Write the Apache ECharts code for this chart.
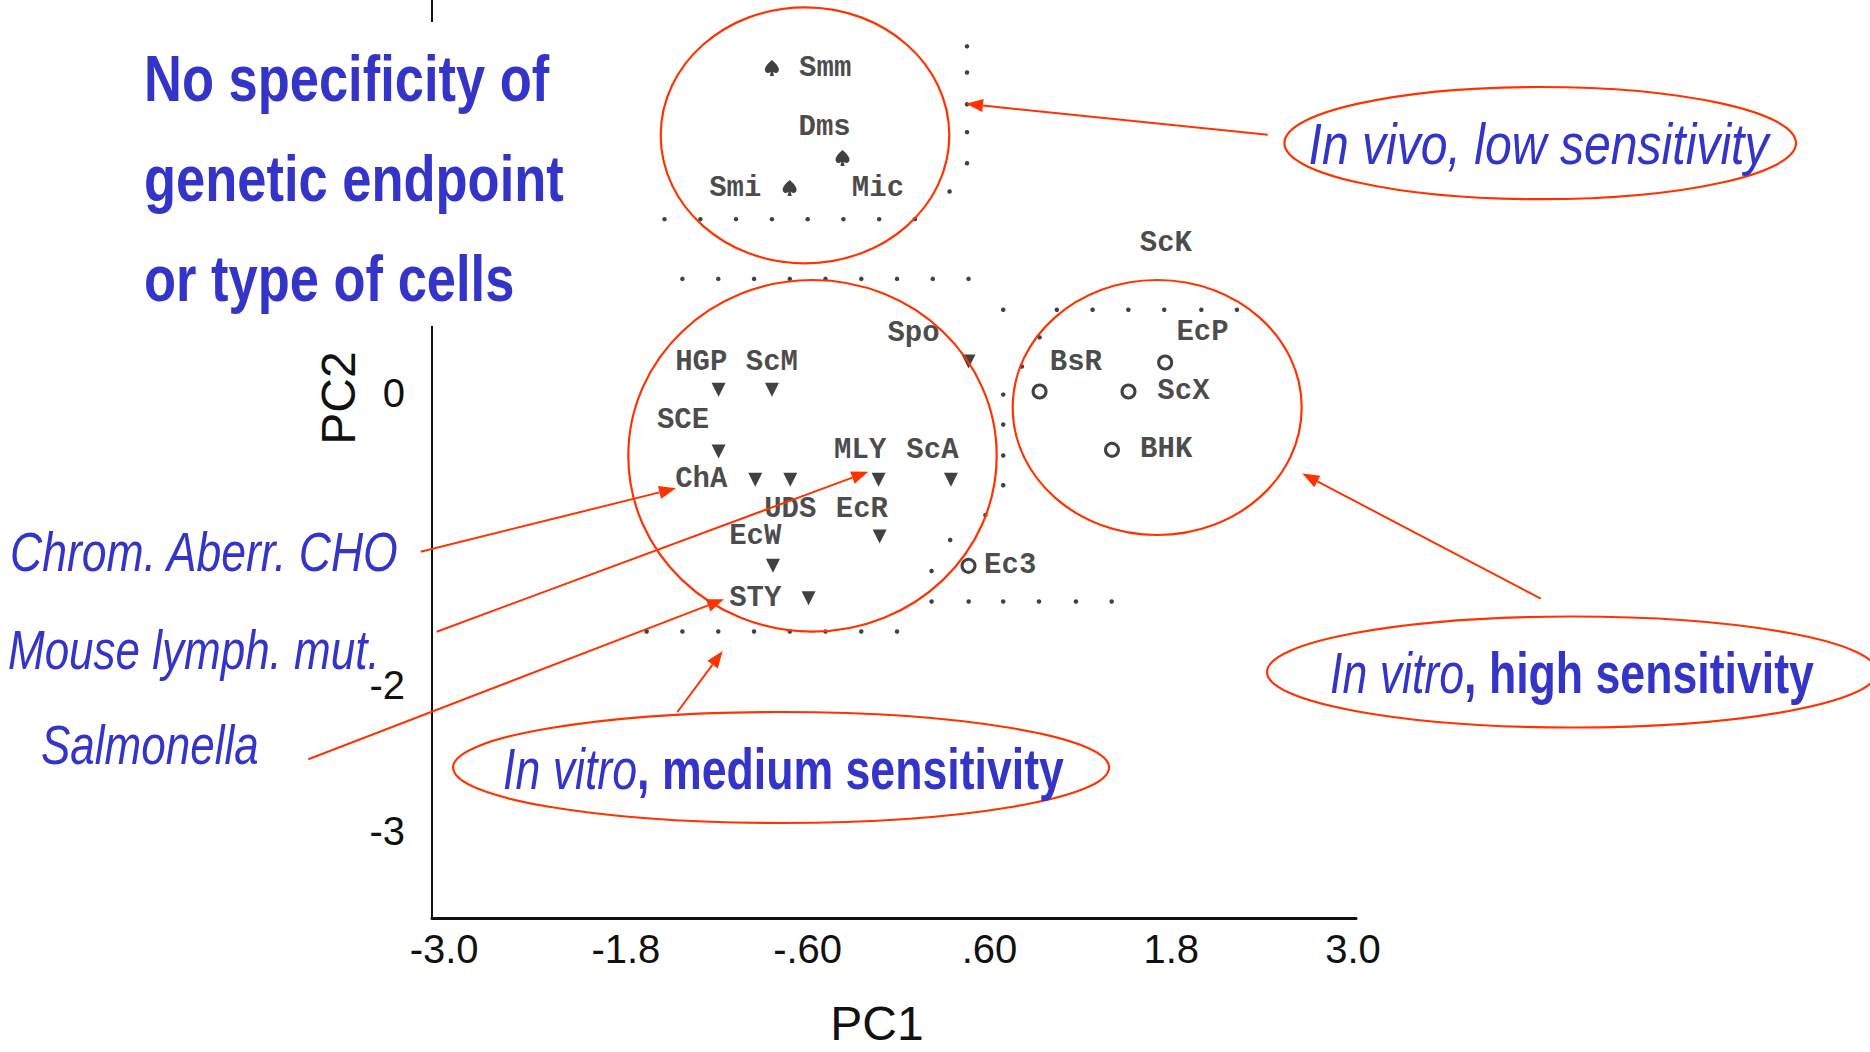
<!DOCTYPE html>
<html>
<head>
<meta charset="utf-8">
<title>PCA of genotoxicity tests</title>
<script src="https://cdn.jsdelivr.net/npm/echarts@6/dist/echarts.min.js"></script>
<style>
html, body { margin: 0; padding: 0; background: #fff; }
#chart { width: 1870px; height: 1052px; }
</style>
</head>
<body>
<div id="chart"></div>
<script>
// axis ticks
var xTicks = [-3.0, -1.8, -0.6, 0.6, 1.8, 3.0];
var xTickLabels = ['-3.0', '-1.8', '-.60', '.60', '1.8', '3.0'];
var yTicks = [0, -2, -3];
var yTickLabels = ['0', '-2', '-3'];

// in vivo tests (spade marks)
var inVivoPts = [[-0.836, 2.233], [-0.370, 1.615], [-0.719, 1.409]];

// in vitro, medium sensitivity (down triangles)
var mediumPts = [
    [-1.188, 0.025], [-0.836, 0.025], [-1.188, -0.399],
    [-0.946, -0.593], [-0.715, -0.593], [-0.132, -0.593], [0.346, -0.593],
    [-0.125, -0.982], [-0.829, -1.183], [-0.594, -1.405], [0.462, 0.219]
];

// in vitro, high sensitivity (open circles)
var highPts = [[0.931, 0.013], [1.518, 0.013], [1.760, 0.212], [1.409, -0.387], [0.462, -1.183]];

// test codes and where they are printed
var testNames = ['Smm', 'Dms', 'Smi', 'Mic', 'Spo', 'HGP', 'ScM', 'SCE', 'ChA', 'MLY', 'ScA',
    'UDS', 'EcR', 'EcW', 'STY', 'Ec3', 'ScK', 'EcP', 'BsR', 'ScX', 'BHK'];
var testNamePos = [
    [-0.484, 2.233], [-0.488, 1.828], [-1.078, 1.409], [-0.136, 1.409], [0.099, 0.414],
    [-1.302, 0.212], [-0.836, 0.212], [-1.423, -0.186], [-1.302, -0.593], [-0.253, -0.394],
    [0.224, -0.394], [-0.715, -0.794], [-0.242, -0.794], [-0.946, -0.982], [-0.946, -1.405],
    [0.737, -1.183], [1.765, 1.032], [2.007, 0.418], [1.171, 0.212], [1.881, 0.013], [1.767, -0.387]
];

// dotted boundaries of the printer plot
var dotRowA = [[-1.545, 1.196], [-1.308, 1.196], [-1.073, 1.196], [-0.836, 1.196], [-0.600, 1.196], [-0.364, 1.196], [-0.128, 1.196], [0.108, 1.196]];
var dotColTop = [[0.452, 2.382], [0.452, 2.202], [0.452, 1.985], [0.452, 1.793], [0.452, 1.580], [0.337, 1.386]];
var dotRowB = [[-1.427, 0.786], [-1.190, 0.786], [-0.954, 0.786], [-0.718, 0.786], [-0.482, 0.786], [-0.246, 0.786], [-0.010, 0.786], [0.226, 0.786], [0.462, 0.786]];
var dotRowC = [[0.691, 0.574], [1.045, 0.574], [1.281, 0.574], [1.517, 0.574], [1.754, 0.574], [1.999, 0.574], [2.234, 0.574], [0.931, 0.385], [0.814, 0.185]];
var dotColMid = [[0.691, -0.008], [0.691, -0.213], [0.691, -0.426], [0.691, -0.630], [0.573, -0.835], [0.341, -1.006], [0.218, -1.219]];
var dotRowD = [[0.218, -1.428], [0.463, -1.428], [0.691, -1.428], [0.927, -1.428], [1.171, -1.428], [1.407, -1.428]];
var dotRowE = [[-1.663, -1.634], [-1.427, -1.634], [-1.190, -1.634], [-0.954, -1.634], [-0.718, -1.634], [-0.482, -1.634], [-0.246, -1.634], [-0.010, -1.634]];

var SANS = "'Liberation Sans', Arial, sans-serif";
var MONO = "'Liberation Mono', 'DejaVu Sans Mono', monospace";
var BLUE = '#3434c8';
var RED = '#ff3300';
var SPADE = 'path://M10,0 C10,0 0,8 0,13 C0,17.5 4.5,19.5 8.5,16 L7,22 L13,22 L11.5,16 C15.5,19.5 20,17.5 20,13 C20,8 10,0 10,0 Z';

var tickFormatter = function (ticks, labels) {
    return function (v) {
        for (var i = 0; i < ticks.length; i++) {
            if (Math.abs(ticks[i] - v) < 1e-6) return labels[i];
        }
        return '';
    };
};

var ellipse = function (cx, cy, rx, ry) {
    return {
        type: 'ellipse', z: 100,
        shape: { cx: cx, cy: cy, rx: rx, ry: ry },
        style: { fill: 'none', stroke: RED, lineWidth: 2.2 }
    };
};

var arrow = function (x1, y1, x2, y2) {
    var a = Math.atan2(y2 - y1, x2 - x1), len = 17, w = 6.5;
    var bx = x2 - len * Math.cos(a), by = y2 - len * Math.sin(a);
    return [
        { type: 'line', z: 100, shape: { x1: x1, y1: y1, x2: bx, y2: by }, style: { stroke: RED, lineWidth: 2 } },
        { type: 'polygon', z: 100, shape: { points: [[x2, y2], [bx + w * Math.sin(a), by - w * Math.cos(a)], [bx - w * Math.sin(a), by + w * Math.cos(a)]] }, style: { fill: RED } }
    ];
};

// narrow look: the text is squeezed sideways around its anchor
var text = function (str, x, y, size, sx, opts) {
    var st = {
        text: str, x: 0, y: 0, fill: BLUE, fontFamily: SANS, fontSize: size,
        fontWeight: opts.weight || 'normal', fontStyle: opts.style || 'normal',
        align: opts.align || 'left', verticalAlign: 'middle'
    };
    if (opts.rich) st.rich = opts.rich;
    return { type: 'text', z: 101, x: x, y: y, scaleX: sx, style: st };
};

var richMix = function (size) {
    return {
        i: { fontFamily: SANS, fontSize: size, fontStyle: 'italic', fontWeight: 'normal', fill: BLUE },
        b: { fontFamily: SANS, fontSize: size, fontStyle: 'normal', fontWeight: 'bold', fill: BLUE }
    };
};

var initChart = function () {
    var chart = echarts.init(document.getElementById('chart'), null, { renderer: 'svg' });

    var graphics = [
        // title box hides the axis behind it
        { type: 'rect', z: 99, shape: { x: 140, y: 22, width: 460, height: 304 }, style: { fill: '#fff' } },
        text('No specificity of', 144, 79, 64, 0.82, { weight: 'bold' }),
        text('genetic endpoint', 144, 179, 64, 0.82, { weight: 'bold' }),
        text('or type of cells', 144, 279, 64, 0.82, { weight: 'bold' }),

        text('Chrom. Aberr. CHO', 10, 552, 55, 0.81, { style: 'italic' }),
        text('Mouse lymph. mut.', 8, 650, 55, 0.8, { style: 'italic' }),
        text('Salmonella', 41, 745, 55, 0.8, { style: 'italic' }),

        ellipse(805, 135.3, 144.3, 128),
        ellipse(812.5, 455.8, 184.2, 175.8),
        ellipse(1157.2, 407.5, 144.5, 127.5),
        ellipse(1540.2, 143.1, 255.8, 56.1),
        ellipse(1572, 672, 305, 55.5),
        ellipse(781.1, 767.5, 328, 55.5),

        text('In vivo, low sensitivity', 1538.5, 144.3, 58, 0.83, { style: 'italic', align: 'center' }),
        text('{i|In vitro}{b|, high sensitivity}', 1572, 672.6, 58, 0.77, { align: 'center', rich: richMix(58) }),
        text('{i|In vitro}{b|, medium sensitivity}', 783.5, 769, 58, 0.77, { align: 'center', rich: richMix(58) })
    ];
    graphics = graphics
        .concat(arrow(1267.7, 134.8, 966, 103.8))
        .concat(arrow(1540.8, 598.7, 1302.3, 473.5))
        .concat(arrow(420.7, 551.7, 676, 488.3))
        .concat(arrow(436.7, 631.7, 868.3, 471.7))
        .concat(arrow(308.3, 759.3, 724, 599.3))
        .concat(arrow(677.4, 712, 722.7, 651));

    var dots = [].concat(dotRowA, dotColTop, dotRowB, dotRowC, dotColMid, dotRowD, dotRowE);

    var option = {
        animation: false,
        backgroundColor: '#fff',
        grid: { left: 432, right: 514, top: 0, bottom: 134, containLabel: false, outerBoundsMode: 'none' },
        xAxis: {
            type: 'value', min: -3.08, max: 3.02,
            splitLine: { show: false },
            axisTick: { show: false },
            axisLine: { onZero: false, lineStyle: { color: '#111', width: 3 } },
            axisLabel: {
                customValues: xTicks,
                formatter: tickFormatter(xTicks, xTickLabels),
                margin: 11, color: '#111', fontFamily: SANS, fontSize: 40
            },
            name: 'PC1', nameLocation: 'middle', nameGap: 82,
            nameTextStyle: { color: '#111', fontFamily: SANS, fontSize: 48, lineHeight: 46, padding: [0, 34, 0, 0] }
        },
        yAxis: {
            type: 'value', min: -3.6, max: 2.7,
            splitLine: { show: false },
            axisTick: { show: false },
            axisLine: { onZero: false, lineStyle: { color: '#111', width: 2 } },
            axisLabel: {
                customValues: yTicks,
                formatter: tickFormatter(yTicks, yTickLabels),
                margin: 27, color: '#111', fontFamily: SANS, fontSize: 40
            },
            name: 'PC2', nameLocation: 'middle', nameGap: 70,
            nameTextStyle: { color: '#111', fontFamily: SANS, fontSize: 48, padding: [0, 0, 0, 122] }
        },
        graphic: { elements: graphics },
        series: [
            {
                name: 'boundary', type: 'scatter', data: dots,
                symbol: 'circle', symbolSize: 4.5,
                itemStyle: { color: '#111' }
            },
            {
                name: 'in vivo', type: 'scatter', data: inVivoPts,
                symbol: SPADE, symbolSize: [14, 16],
                itemStyle: { color: '#111' }
            },
            {
                name: 'in vitro medium', type: 'scatter', data: mediumPts,
                symbol: 'triangle', symbolRotate: 180, symbolSize: 14,
                itemStyle: { color: '#111' }
            },
            {
                name: 'in vitro high', type: 'scatter', data: highPts,
                symbol: 'circle', symbolSize: 13,
                itemStyle: { color: '#fff', borderColor: '#111', borderWidth: 3 }
            },
            {
                name: 'codes', type: 'scatter',
                data: testNames.map(function (n, i) { return { name: n, value: testNamePos[i] }; }),
                symbolSize: 1,
                itemStyle: { color: 'transparent' },
                label: {
                    show: true, position: 'inside', formatter: '{b}',
                    color: '#1a1a1a', fontFamily: MONO, fontSize: 29, fontWeight: 'bold'
                }
            }
        ]
    };
    chart.setOption(option);
};

initChart();
</script>
</body>
</html>
